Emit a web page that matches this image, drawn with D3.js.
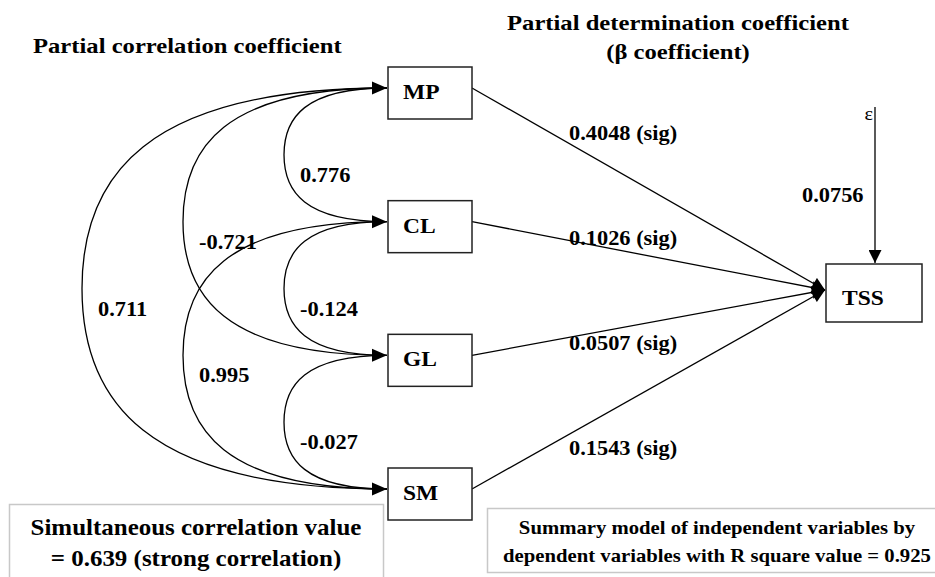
<!DOCTYPE html>
<html><head><meta charset="utf-8">
<script src="https://cdn.jsdelivr.net/npm/d3@7"></script>
<style>body{margin:0;background:#fff}svg{display:block}</style>
</head><body><svg id="c" width="935" height="577"></svg>
<script>
// ---- data ----
const predictors = ["MP", "CL", "GL", "SM"];
const targetName = "TSS";
const corrFrom = ["MP", "CL", "GL", "MP", "CL", "MP"];
const corrTo   = ["CL", "GL", "SM", "GL", "SM", "SM"];
const corrValues = [0.776, -0.124, -0.027, -0.721, 0.995, 0.711];
const betaValues = [0.4048, 0.1026, 0.0507, 0.1543];
const epsilonValue = 0.0756;
const titleLeft = "Partial correlation coefficient";
const titleRight = ["Partial determination coefficient", "(β coefficient)"];
const noteLeft = ["Simultaneous correlation value", "= 0.639 (strong correlation)"];
const noteRight = ["Summary model of independent variables by", "dependent variables with R square value = 0.925"];

// ---- layout ----
const svg = d3.select("#c");
const FONT = "Liberation Serif";
const SX = 1.12;
const y = d3.scalePoint().domain(predictors).range([88, 489]);
const labelY = d3.scalePoint().domain(predictors).range([140, 455]);
const boxX0 = 388, boxX1 = 472;
const tipX = 387;
const bulge = d3.scaleLinear().domain([1, 3]).range([103, 305]);
const target = {x0: 826, x1: 922, y0: 264, y1: 322, tipY: 290};

const defs = svg.append("defs");
defs.append("marker").attr("id", "ah").attr("viewBox", "0 0 10 10")
  .attr("refX", 10).attr("refY", 5).attr("markerWidth", 15).attr("markerHeight", 13)
  .attr("markerUnits", "userSpaceOnUse").attr("orient", "auto")
  .append("path").attr("d", "M0,0L10,5L0,10Z").attr("fill", "#000");

function txt(g, s, x, yy, size, anchor, weight) {
  return g.append("text").attr("transform", `translate(${x},${yy}) scale(${SX},1)`)
    .attr("text-anchor", anchor || "start").style("font-family", FONT)
    .style("font-weight", weight || "bold").style("font-size", size + "px").attr("fill", "#000").text(s);
}

// titles
txt(svg, titleLeft, 33, 53, 22);
txt(svg, titleRight[0], 678, 30, 22, "middle");
txt(svg, titleRight[1], 678, 59, 22, "middle");

// correlation curves
const a = 0.8, b = 0.55;
const corr = corrValues.map((v, i) => ({v, from: corrFrom[i], to: corrTo[i]}));
corr.forEach(d => {
  const y1 = y(d.from), y2 = y(d.to);
  const span = predictors.indexOf(d.to) - predictors.indexOf(d.from);
  const W = bulge(span), H = (y2 - y1) / 2, ym = (y1 + y2) / 2, xl = tipX - W;
  const p = d3.path();
  p.moveTo(tipX, y1);
  p.bezierCurveTo(tipX - a * W, y1, xl, ym - b * H, xl, ym);
  p.bezierCurveTo(xl, ym + b * H, tipX - a * W, y2, tipX, y2);
  svg.append("path").attr("d", p.toString()).attr("fill", "none")
    .attr("stroke", "#000").attr("stroke-width", 1.3);
  d.lx = xl + 16; d.ly = ym + 27;
});
// arrowheads at predictor boxes
predictors.forEach(k => {
  svg.append("path").attr("d", `M${tipX - 15},${y(k) - 6.5}L${tipX},${y(k)}L${tipX - 15},${y(k) + 6.5}Z`).attr("fill", "#000");
});
corr.forEach(d => txt(svg, d.v.toFixed(3), d.lx, d.ly, 20));

// beta lines
predictors.forEach((k, i) => {
  svg.append("line").attr("x1", boxX1).attr("y1", y(k)).attr("x2", target.x0 - 1).attr("y2", target.tipY)
    .attr("stroke", "#000").attr("stroke-width", 1.3).attr("marker-end", "url(#ah)");
  txt(svg, betaValues[i].toFixed(4) + " (sig)", 569, labelY(k), 20);
});

// boxes
predictors.forEach(k => {
  svg.append("rect").attr("x", boxX0).attr("y", y(k) - 21).attr("width", boxX1 - boxX0).attr("height", 52)
    .attr("fill", "#fff").attr("stroke", "#222").attr("stroke-width", 1.5);
  txt(svg, k, 403, y(k) + 11, 21);
});
svg.append("rect").attr("x", target.x0).attr("y", target.y0).attr("width", target.x1 - target.x0)
  .attr("height", target.y1 - target.y0).attr("fill", "#fff").attr("stroke", "#222").attr("stroke-width", 1.5);
txt(svg, targetName, 842, 305, 21);

// epsilon
svg.append("line").attr("x1", 875).attr("y1", 107).attr("x2", 875).attr("y2", target.y0 - 1)
  .attr("stroke", "#000").attr("stroke-width", 1.3).attr("marker-end", "url(#ah)");
txt(svg, "ε", 873, 120, 18, "end", "normal");
txt(svg, epsilonValue.toFixed(4), 802, 202, 20);

// notes
svg.append("rect").attr("x", 9.5).attr("y", 504.5).attr("width", 374).attr("height", 90)
  .attr("fill", "none").attr("stroke", "#c8c8c8").attr("stroke-width", 1.5);
txt(svg, noteLeft[0], 196, 535, 22.3, "middle");
txt(svg, noteLeft[1], 196, 566, 22.3, "middle");
svg.append("rect").attr("x", 487.5).attr("y", 508.5).attr("width", 460).attr("height", 64)
  .attr("fill", "none").attr("stroke", "#c8c8c8").attr("stroke-width", 1.5);
txt(svg, noteRight[0], 717, 534, 18.5, "middle");
txt(svg, noteRight[1], 717, 562, 18.5, "middle");
</script></body></html>
